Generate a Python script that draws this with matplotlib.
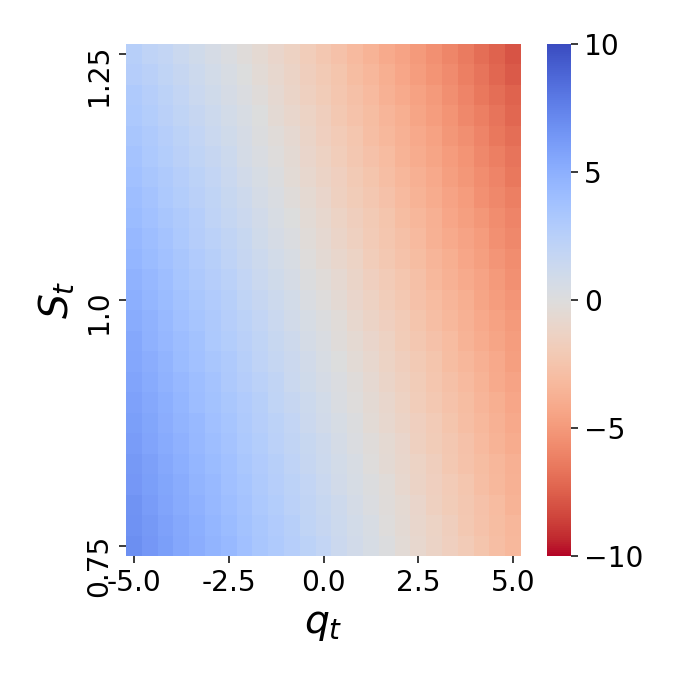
import numpy as np
import matplotlib
matplotlib.use("Agg")
import matplotlib.pyplot as plt

# grid values (columns = q_t, rows = S_t from 0.75 at the bottom to 1.25 at the top)
q_values = [-5.0, -4.58, -4.17, -3.75, -3.33, -2.92, -2.5, -2.08, -1.67, -1.25, -0.83, -0.42,
            0.0, 0.42, 0.83, 1.25, 1.67, 2.08, 2.5, 2.92, 3.33, 3.75, 4.17, 4.58, 5.0]
S_values = [0.75, 0.77, 0.79, 0.81, 0.83, 0.85, 0.88, 0.9, 0.92, 0.94, 0.96, 0.98,
            1.0, 1.02, 1.04, 1.06, 1.08, 1.1, 1.12, 1.15, 1.17, 1.19, 1.21, 1.23, 1.25]

# estimated cell values, one list per S row (bottom row first)
row_00 = [6.8, 6.4, 6.0, 5.5, 5.1, 4.7, 4.3, 3.9, 3.4, 3.0, 2.6, 2.2, 1.8, 1.3, 0.9, 0.5, 0.1, -0.4, -0.8, -1.2, -1.6, -2.0, -2.5, -2.9, -3.3]
row_01 = [6.7, 6.3, 5.8, 5.4, 5.0, 4.6, 4.2, 3.7, 3.3, 2.9, 2.5, 2.0, 1.6, 1.2, 0.8, 0.4, -0.1, -0.5, -0.9, -1.3, -1.7, -2.2, -2.6, -3.0, -3.4]
row_02 = [6.6, 6.1, 5.7, 5.3, 4.9, 4.4, 4.0, 3.6, 3.2, 2.8, 2.3, 1.9, 1.5, 1.1, 0.7, 0.2, -0.2, -0.6, -1.0, -1.5, -1.9, -2.3, -2.7, -3.1, -3.6]
row_03 = [6.4, 6.0, 5.6, 5.2, 4.7, 4.3, 3.9, 3.5, 3.0, 2.6, 2.2, 1.8, 1.4, 0.9, 0.5, 0.1, -0.3, -0.8, -1.2, -1.6, -2.0, -2.4, -2.9, -3.3, -3.7]
row_04 = [6.3, 5.9, 5.4, 5.0, 4.6, 4.2, 3.8, 3.3, 2.9, 2.5, 2.1, 1.6, 1.2, 0.8, 0.4, -0.1, -0.5, -0.9, -1.3, -1.7, -2.2, -2.6, -3.0, -3.4, -3.8]
row_05 = [6.1, 5.7, 5.3, 4.9, 4.4, 4.0, 3.6, 3.2, 2.8, 2.3, 1.9, 1.5, 1.1, 0.7, 0.2, -0.2, -0.6, -1.0, -1.5, -1.9, -2.3, -2.7, -3.2, -3.6, -4.0]
row_06 = [6.0, 5.6, 5.1, 4.7, 4.3, 3.9, 3.5, 3.0, 2.6, 2.2, 1.8, 1.3, 0.9, 0.5, 0.1, -0.4, -0.8, -1.2, -1.6, -2.0, -2.5, -2.9, -3.3, -3.7, -4.2]
row_07 = [5.8, 5.4, 5.0, 4.6, 4.1, 3.7, 3.3, 2.9, 2.5, 2.0, 1.6, 1.2, 0.8, 0.3, -0.1, -0.5, -0.9, -1.4, -1.8, -2.2, -2.6, -3.0, -3.5, -3.9, -4.3]
row_08 = [5.7, 5.3, 4.8, 4.4, 4.0, 3.6, 3.1, 2.7, 2.3, 1.9, 1.4, 1.0, 0.6, 0.2, -0.2, -0.7, -1.1, -1.5, -1.9, -2.4, -2.8, -3.2, -3.6, -4.1, -4.5]
row_09 = [5.5, 5.1, 4.7, 4.2, 3.8, 3.4, 3.0, 2.5, 2.1, 1.7, 1.3, 0.9, 0.4, 0.0, -0.4, -0.8, -1.3, -1.7, -2.1, -2.5, -3.0, -3.4, -3.8, -4.2, -4.7]
row_10 = [5.4, 4.9, 4.5, 4.1, 3.7, 3.2, 2.8, 2.4, 2.0, 1.5, 1.1, 0.7, 0.3, -0.2, -0.6, -1.0, -1.4, -1.9, -2.3, -2.7, -3.1, -3.6, -4.0, -4.4, -4.8]
row_11 = [5.2, 4.8, 4.3, 3.9, 3.5, 3.1, 2.6, 2.2, 1.8, 1.4, 0.9, 0.5, 0.1, -0.3, -0.8, -1.2, -1.6, -2.0, -2.5, -2.9, -3.3, -3.7, -4.2, -4.6, -5.0]
row_12 = [5.0, 4.6, 4.2, 3.7, 3.3, 2.9, 2.5, 2.0, 1.6, 1.2, 0.8, 0.3, -0.1, -0.5, -1.0, -1.4, -1.8, -2.2, -2.7, -3.1, -3.5, -3.9, -4.4, -4.8, -5.2]
row_13 = [4.8, 4.4, 4.0, 3.5, 3.1, 2.7, 2.3, 1.8, 1.4, 1.0, 0.6, 0.1, -0.3, -0.7, -1.1, -1.6, -2.0, -2.4, -2.8, -3.3, -3.7, -4.1, -4.5, -5.0, -5.4]
row_14 = [4.6, 4.2, 3.8, 3.4, 2.9, 2.5, 2.1, 1.6, 1.2, 0.8, 0.4, -0.1, -0.5, -0.9, -1.3, -1.8, -2.2, -2.6, -3.0, -3.5, -3.9, -4.3, -4.7, -5.2, -5.6]
row_15 = [4.4, 4.0, 3.6, 3.2, 2.7, 2.3, 1.9, 1.5, 1.0, 0.6, 0.2, -0.3, -0.7, -1.1, -1.5, -2.0, -2.4, -2.8, -3.2, -3.7, -4.1, -4.5, -4.9, -5.4, -5.8]
row_16 = [4.2, 3.8, 3.4, 3.0, 2.6, 2.1, 1.7, 1.3, 0.9, 0.4, 0.0, -0.4, -0.8, -1.3, -1.7, -2.1, -2.5, -3.0, -3.4, -3.8, -4.3, -4.7, -5.1, -5.6, -6.0]
row_17 = [4.0, 3.6, 3.2, 2.8, 2.4, 2.0, 1.5, 1.1, 0.7, 0.3, -0.2, -0.6, -1.0, -1.5, -1.9, -2.3, -2.7, -3.2, -3.6, -4.0, -4.5, -4.9, -5.4, -5.8, -6.2]
row_18 = [3.8, 3.4, 3.0, 2.6, 2.2, 1.8, 1.4, 0.9, 0.5, 0.1, -0.4, -0.8, -1.2, -1.6, -2.1, -2.5, -2.9, -3.4, -3.8, -4.2, -4.7, -5.1, -5.6, -6.0, -6.5]
row_19 = [3.6, 3.2, 2.8, 2.4, 2.0, 1.6, 1.2, 0.7, 0.3, -0.1, -0.5, -1.0, -1.4, -1.8, -2.3, -2.7, -3.1, -3.6, -4.0, -4.4, -4.9, -5.3, -5.8, -6.2, -6.7]
row_20 = [3.4, 3.0, 2.6, 2.2, 1.8, 1.4, 1.0, 0.6, 0.1, -0.3, -0.7, -1.1, -1.6, -2.0, -2.4, -2.9, -3.3, -3.7, -4.2, -4.6, -5.1, -5.5, -6.0, -6.5, -6.9]
row_21 = [3.2, 2.8, 2.4, 2.0, 1.6, 1.2, 0.8, 0.4, 0.0, -0.5, -0.9, -1.3, -1.7, -2.2, -2.6, -3.0, -3.5, -3.9, -4.4, -4.8, -5.3, -5.8, -6.2, -6.7, -7.2]
row_22 = [3.0, 2.6, 2.2, 1.8, 1.4, 1.0, 0.6, 0.2, -0.2, -0.7, -1.1, -1.5, -1.9, -2.4, -2.8, -3.2, -3.7, -4.1, -4.6, -5.0, -5.5, -6.0, -6.5, -6.9, -7.4]
row_23 = [2.7, 2.4, 2.0, 1.6, 1.2, 0.8, 0.4, 0.0, -0.4, -0.8, -1.2, -1.7, -2.1, -2.5, -3.0, -3.4, -3.9, -4.3, -4.8, -5.3, -5.7, -6.2, -6.7, -7.2, -7.7]
row_24 = [2.5, 2.1, 1.8, 1.4, 1.0, 0.6, 0.2, -0.2, -0.6, -1.0, -1.4, -1.8, -2.3, -2.7, -3.2, -3.6, -4.1, -4.5, -5.0, -5.4, -5.9, -6.4, -6.9, -7.4, -7.9]

grid = np.array([row_00, row_01, row_02, row_03, row_04, row_05, row_06, row_07, row_08,
                 row_09, row_10, row_11, row_12, row_13, row_14, row_15, row_16, row_17,
                 row_18, row_19, row_20, row_21, row_22, row_23, row_24])

x_tick_idx = [0, 6, 12, 18, 24]
y_tick_idx = [0, 12, 24]
cbar_ticks = [-10, -5, 0, 5, 10]

# 5x5 inch figure at 135.2 dpi -> 676 px
fig = plt.figure(figsize=(5, 5), dpi=135.2)
ax = fig.add_axes([126 / 676, 120 / 676, 395 / 676, 512 / 676])
cax = fig.add_axes([547 / 676, 120 / 676, 24 / 676, 512 / 676])

mesh = ax.pcolormesh(np.arange(len(q_values) + 1), np.arange(len(S_values) + 1), grid,
                     cmap="coolwarm_r", vmin=-10, vmax=10)
ax.set_xlim(0, len(q_values))
ax.set_ylim(0, len(S_values))
for sp in ax.spines.values():
    sp.set_visible(False)

# tick labels as plain strings (hyphen minus, like the original)
ax.set_xticks([i + 0.5 for i in x_tick_idx])
ax.set_xticklabels([str(q_values[i]) for i in x_tick_idx], fontsize=15)
ax.set_yticks([i + 0.5 for i in y_tick_idx])
ax.set_yticklabels([str(S_values[i]) for i in y_tick_idx], fontsize=15, rotation=90)
ax.set_xlabel(r"$q_t$", fontsize=21)
ax.set_ylabel(r"$S_t$", fontsize=21)

cb = fig.colorbar(mesh, cax=cax, ticks=cbar_ticks)
cb.outline.set_linewidth(0)
cb.ax.tick_params(labelsize=15)

fig.savefig("out.png", dpi=135.2)
